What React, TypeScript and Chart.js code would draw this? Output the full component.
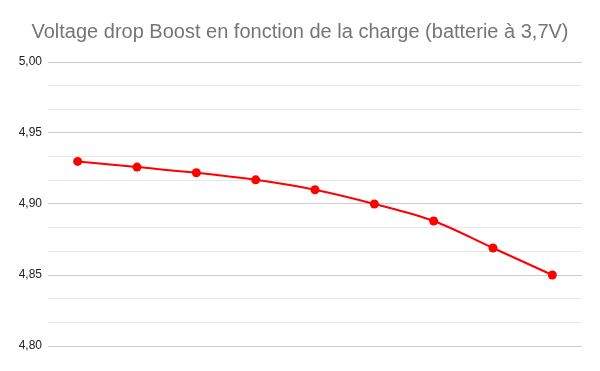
import React, { useEffect, useRef } from "react";
import { Chart, registerables } from "chart.js";

Chart.register(...registerables);

const titleText = "Voltage drop Boost en fonction de la charge (batterie à 3,7V)";
const categories = ["1", "2", "3", "4", "5", "6", "7", "8", "9"];
const voltage = [4.93, 4.926, 4.922, 4.917, 4.91, 4.9, 4.888, 4.869, 4.85];
const yMin = 4.8;
const yMax = 5.0;
const majorStep = 0.05;
const minorDivisions = 3;

function isMajor(v: number) {
  const r = v / majorStep;
  return Math.abs(r - Math.round(r)) < 1e-6;
}

export default function App() {
  const ref = useRef<HTMLCanvasElement>(null);
  useEffect(() => {
    if (!ref.current) return;
    const chart = new Chart(ref.current, {
      type: "line",
      data: {
        labels: categories,
        datasets: [
          {
            data: voltage,
            borderColor: "#ff0000",
            backgroundColor: "#ff0000",
            borderWidth: 2,
            pointRadius: 4.5,
            pointBackgroundColor: "#ff0000",
            pointBorderWidth: 0,
            tension: 0.4,
            cubicInterpolationMode: "monotone",
          },
        ],
      },
      options: {
        responsive: false,
        animation: false,
        layout: { padding: { left: 18, right: 18, top: 0, bottom: 25 } },
        plugins: {
          legend: { display: false },
          tooltip: { enabled: false },
          title: {
            display: true,
            text: titleText,
            color: "#757575",
            font: { family: "'Liberation Sans', Arial, sans-serif", size: 20, weight: "normal" },
            padding: { top: 20, bottom: 18 },
          },
        },
        scales: {
          x: {
            display: false,
            offset: true,
          },
          y: {
            min: yMin,
            max: yMax,
            afterBuildTicks: (axis: any) => {
              const n = Math.round((yMax - yMin) / majorStep) * minorDivisions;
              const t = [];
              for (let i = 0; i <= n; i++) t.push({ value: yMin + ((yMax - yMin) * i) / n });
              axis.ticks = t;
            },
            afterFit: (axis: any) => {
              axis.width = 30;
            },
            border: { display: false },
            grid: {
              drawTicks: false,
              color: (ctx: any) => (isMajor(ctx.tick.value) ? "#cccccc" : "#e6e6e6"),
              lineWidth: 1,
            },
            ticks: {
              padding: 6,
              color: "#222222",
              font: { family: "'Liberation Sans', Arial, sans-serif", size: 12 },
              autoSkip: false,
              callback: (v: any) => (isMajor(Number(v)) ? Number(v).toFixed(2).replace(".", ",") : ""),
            },
          },
        },
      },
    });
    return () => chart.destroy();
  }, []);
  return (
    <div style={{ position: "fixed", left: 0, top: 0, width: 600, height: 371, background: "#fff" }}>
      <canvas ref={ref} width={600} height={371} />
    </div>
  );
}
